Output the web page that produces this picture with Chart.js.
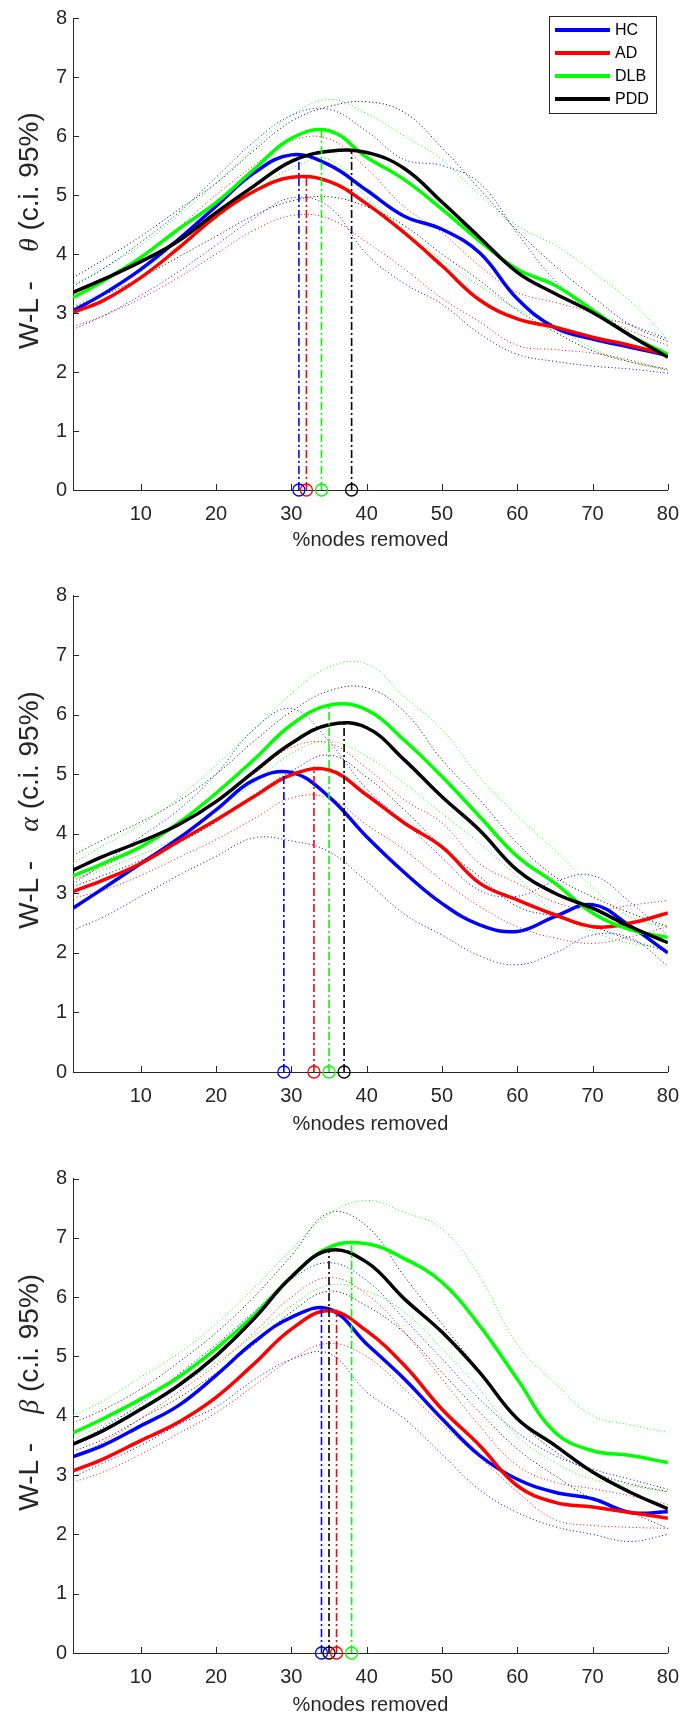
<!DOCTYPE html>
<html lang="en">
<head>
  <meta charset="UTF-8">
  <title>W-L - % nodes removed</title>
  <script src="https://cdn.jsdelivr.net/npm/chart.js"></script>
  <style>
    body { margin: 0; background: #fff; }
    .wrap { position: relative; width: 691px; height: 1715px; }
    canvas { position: absolute; left: 0; }
  </style>
</head>
<body>
  <div class="wrap">
    <canvas id="thetaChart" width="691" height="560" style="top:0px"></canvas>
    <canvas id="alphaChart" width="691" height="580" style="top:560px"></canvas>
    <canvas id="betaChart" width="691" height="575" style="top:1140px"></canvas>
  </div>

  <script>
    // shared axes
    const xs = [1, 5, 10, 15, 20, 25, 30, 35, 40, 45, 50, 55, 60, 65, 70, 75, 80];
    const xTicks = [10, 20, 30, 40, 50, 60, 70, 80];
    const yTicks = [0, 1, 2, 3, 4, 5, 6, 7, 8];
    const groups = ['HC', 'AD', 'DLB', 'PDD'];
    const colors = ['#0000ff', '#ff0000', '#00ff00', '#000000'];

    // theta band
    const thetaHC = [3.04, 3.32, 3.74, 4.25, 4.81, 5.37, 5.68, 5.51, 5.08, 4.64, 4.42, 4.02, 3.24, 2.75, 2.56, 2.42, 2.28];
    const thetaAD = [3.01, 3.21, 3.6, 4.1, 4.64, 5.06, 5.3, 5.23, 4.85, 4.36, 3.8, 3.22, 2.9, 2.76, 2.59, 2.45, 2.29];
    const thetaDLB = [3.26, 3.54, 3.94, 4.42, 4.87, 5.43, 5.96, 6.09, 5.64, 5.26, 4.76, 4.22, 3.74, 3.47, 3.05, 2.62, 2.3];
    const thetaPDD = [3.35, 3.57, 3.87, 4.22, 4.7, 5.15, 5.57, 5.74, 5.72, 5.45, 4.88, 4.28, 3.69, 3.33, 3.01, 2.62, 2.25];
    const thetaHCup = [3.45, 3.75, 4.2, 4.7, 5.3, 5.9, 6.35, 6.45, 6.08, 5.6, 5.5, 5.2, 4.35, 3.55, 3.0, 2.8, 2.56];
    const thetaHClo = [2.72, 2.95, 3.3, 3.7, 4.15, 4.6, 4.95, 4.8, 4.0, 3.5, 3.15, 2.65, 2.3, 2.18, 2.1, 2.05, 1.98];
    const thetaADup = [3.3, 3.55, 3.95, 4.45, 5.0, 5.5, 5.92, 5.95, 5.45, 4.8, 4.36, 3.8, 3.35, 3.18, 3.0, 2.7, 2.45];
    const thetaADlo = [2.77, 2.95, 3.25, 3.6, 4.0, 4.4, 4.65, 4.6, 4.2, 3.75, 3.25, 2.85, 2.45, 2.38, 2.32, 2.2, 2.02];
    const thetaDLBup = [3.48, 3.75, 4.15, 4.65, 5.2, 5.8, 6.35, 6.62, 6.38, 6.0, 5.6, 5.0, 4.48, 4.15, 3.7, 3.2, 2.55];
    const thetaDLBlo = [3.12, 3.35, 3.7, 4.15, 4.6, 5.05, 5.45, 5.6, 4.95, 4.4, 3.9, 3.46, 3.07, 2.79, 2.4, 2.17, 2.03];
    const thetaPDDup = [3.6, 3.9, 4.3, 4.75, 5.2, 5.75, 6.25, 6.5, 6.58, 6.4, 5.8, 5.1, 4.4, 3.8, 3.28, 2.8, 2.52];
    const thetaPDDlo = [3.1, 3.3, 3.6, 3.95, 4.3, 4.65, 4.9, 4.97, 4.8, 4.48, 4.0, 3.55, 3.05, 2.68, 2.36, 2.17, 2.05];
    const thetaPeakX = [31, 32, 34, 38];
    const thetaPeakY = [5.68, 5.33, 6.11, 5.75];

    // alpha band
    const alphaHC = [2.75, 3.08, 3.5, 3.92, 4.4, 4.9, 5.03, 4.62, 3.95, 3.35, 2.83, 2.47, 2.36, 2.61, 2.81, 2.45, 2.0];
    const alphaAD = [3.03, 3.22, 3.5, 3.87, 4.23, 4.62, 4.99, 5.07, 4.65, 4.18, 3.78, 3.17, 2.89, 2.64, 2.44, 2.5, 2.67];
    const alphaDLB = [3.29, 3.5, 3.78, 4.18, 4.68, 5.24, 5.83, 6.16, 6.08, 5.57, 4.96, 4.29, 3.62, 3.17, 2.67, 2.39, 2.26];
    const alphaPDD = [3.39, 3.62, 3.87, 4.15, 4.54, 5.04, 5.52, 5.83, 5.78, 5.24, 4.62, 4.06, 3.39, 3.0, 2.75, 2.44, 2.17];
    const alphaHCup = [3.15, 3.5, 3.95, 4.4, 5.0, 5.75, 6.1, 5.55, 4.75, 4.2, 3.6, 3.05, 2.95, 3.2, 3.3, 2.85, 2.3];
    const alphaHClo = [2.38, 2.6, 2.95, 3.3, 3.62, 3.93, 3.88, 3.7, 3.2, 2.65, 2.3, 1.95, 1.8, 2.0, 2.3, 2.25, 1.78];
    const alphaADup = [3.22, 3.45, 3.78, 4.15, 4.55, 5.0, 5.45, 5.52, 5.1, 4.57, 4.18, 3.5, 3.17, 2.85, 2.72, 2.8, 2.88];
    const alphaADlo = [2.92, 3.05, 3.3, 3.6, 3.9, 4.25, 4.6, 4.6, 4.15, 3.73, 3.22, 2.78, 2.44, 2.25, 2.16, 2.27, 2.44];
    const alphaDLBup = [3.5, 3.8, 4.15, 4.6, 5.15, 5.75, 6.35, 6.8, 6.85, 6.3, 5.75, 4.95, 4.3, 3.72, 3.1, 2.6, 2.43];
    const alphaDLBlo = [3.22, 3.4, 3.65, 3.95, 4.4, 4.85, 5.35, 5.55, 5.3, 4.85, 4.34, 3.84, 3.28, 2.67, 2.36, 2.16, 2.1];
    const alphaPDDup = [3.64, 3.9, 4.2, 4.55, 5.0, 5.55, 6.05, 6.4, 6.45, 6.05, 5.24, 4.57, 3.84, 3.28, 2.94, 2.67, 2.44];
    const alphaPDDlo = [3.11, 3.3, 3.55, 3.85, 4.2, 4.65, 5.05, 5.32, 4.95, 4.4, 3.78, 3.28, 2.78, 2.61, 2.44, 2.22, 2.02];
    const alphaPeakX = [29, 33, 35, 37];
    const alphaPeakY = [5.03, 5.13, 6.16, 5.88];

    // beta band
    const betaHC = [3.31, 3.5, 3.83, 4.17, 4.68, 5.24, 5.66, 5.8, 5.21, 4.62, 3.95, 3.33, 2.93, 2.71, 2.6, 2.37, 2.38];
    const betaAD = [3.07, 3.27, 3.58, 3.89, 4.31, 4.87, 5.46, 5.77, 5.43, 4.85, 4.11, 3.5, 2.82, 2.54, 2.46, 2.37, 2.27];
    const betaDLB = [3.71, 3.95, 4.28, 4.65, 5.13, 5.69, 6.34, 6.84, 6.9, 6.65, 6.25, 5.52, 4.62, 3.72, 3.41, 3.33, 3.21];
    const betaPDD = [3.52, 3.75, 4.11, 4.51, 5.01, 5.63, 6.34, 6.79, 6.59, 5.97, 5.41, 4.73, 3.95, 3.5, 3.05, 2.71, 2.43];
    const betaHCup = [3.5, 3.8, 4.2, 4.7, 5.2, 5.75, 6.3, 6.58, 6.28, 5.63, 4.96, 4.28, 3.72, 3.33, 3.1, 2.93, 2.76];
    const betaHClo = [2.97, 3.2, 3.5, 3.85, 4.15, 4.6, 4.95, 5.05, 4.4, 3.95, 3.35, 2.75, 2.37, 2.13, 2.0, 1.88, 2.0];
    const betaADup = [3.3, 3.55, 3.95, 4.4, 4.85, 5.4, 6.0, 6.33, 6.05, 5.41, 4.62, 3.83, 3.16, 2.88, 2.77, 2.65, 2.5];
    const betaADlo = [2.88, 3.05, 3.35, 3.7, 4.05, 4.5, 4.95, 5.22, 5.0, 4.45, 3.85, 3.3, 2.72, 2.25, 2.15, 2.12, 2.1];
    const betaDLBup = [4.0, 4.25, 4.65, 5.05, 5.55, 6.15, 6.8, 7.4, 7.63, 7.43, 7.15, 6.35, 5.2, 4.55, 4.0, 3.85, 3.72];
    const betaDLBlo = [3.6, 3.85, 4.15, 4.5, 4.9, 5.35, 5.85, 6.2, 6.1, 5.75, 5.13, 4.45, 3.66, 3.21, 2.93, 2.82, 2.71];
    const betaPDDup = [3.88, 4.1, 4.45, 4.9, 5.4, 6.0, 6.7, 7.42, 7.2, 6.35, 5.55, 4.75, 3.95, 3.4, 3.05, 2.85, 2.72];
    const betaPDDlo = [3.4, 3.6, 3.95, 4.3, 4.72, 5.2, 5.75, 6.1, 5.85, 5.4, 4.73, 4.06, 3.44, 2.99, 2.6, 2.37, 2.1];
    const betaPeakX = [34, 36, 38, 35];
    const betaPeakY = [5.82, 5.79, 6.93, 6.79];

    const axisColor = '#262626';
    const sansFamily = '"Liberation Sans", Arial, sans-serif';
    Chart.defaults.font.family = sansFamily;

    // MATLAB-style ticks pointing into the plot
    const innerTicks = {
      id: 'innerTicks',
      afterDraw(chart) {
        const { ctx, chartArea: a, scales: { x, y } } = chart;
        ctx.save();
        ctx.strokeStyle = axisColor;
        ctx.lineWidth = 1;
        ctx.beginPath();
        yTicks.forEach(v => {
          const py = Math.round(y.getPixelForValue(v)) + 0.5;
          ctx.moveTo(a.left, py);
          ctx.lineTo(a.left + 6, py);
        });
        xTicks.forEach(v => {
          const px = Math.round(x.getPixelForValue(v)) + 0.5;
          ctx.moveTo(px, a.bottom);
          ctx.lineTo(px, a.bottom - 6);
        });
        ctx.stroke();
        ctx.restore();
      }
    };

    // y title with an italic greek letter in the middle
    const yLabel = {
      id: 'yLabel',
      afterDraw(chart, args, opts) {
        const { ctx, chartArea: a } = chart;
        const sans = '28px ' + sansFamily;
        const ital = 'italic 28px "Liberation Serif", "DejaVu Serif", serif';
        ctx.save();
        ctx.translate(38, (a.top + a.bottom) / 2 + 95);
        ctx.rotate(-Math.PI / 2);
        ctx.fillStyle = axisColor;
        ctx.textAlign = 'left';
        ctx.textBaseline = 'alphabetic';
        let pos = 0;
        ctx.font = sans;
        ctx.fillText('W-L -', pos, 0);
        pos += ctx.measureText('W-L -').width + 29;
        ctx.font = ital;
        ctx.fillText(opts.greek, pos, 0);
        pos += ctx.measureText(opts.greek).width;
        ctx.font = sans;
        ctx.fillText(' (c.i. 95%)', pos, 0);
        ctx.restore();
      }
    };

    // boxed legend, top right of the first panel
    const boxLegend = {
      id: 'boxLegend',
      afterDraw(chart, args, opts) {
        if (!opts.show) return;
        const ctx = chart.ctx;
        ctx.save();
        ctx.fillStyle = '#fff';
        ctx.fillRect(549, 16, 107, 97);
        ctx.strokeStyle = axisColor;
        ctx.lineWidth = 1;
        ctx.strokeRect(549.5, 16.5, 107, 97);
        ctx.font = '16px ' + sansFamily;
        ctx.textAlign = 'left';
        ctx.textBaseline = 'middle';
        groups.forEach((g, i) => {
          const yy = 30 + i * 23;
          ctx.strokeStyle = colors[i];
          ctx.lineWidth = 4;
          ctx.beginPath();
          ctx.moveTo(555, yy);
          ctx.lineTo(610, yy);
          ctx.stroke();
          ctx.fillStyle = '#000';
          ctx.fillText(g, 615, yy + 1);
        });
        ctx.restore();
      }
    };

    function pts(values) {
      return xs.map((x, i) => ({ x: x, y: values[i] }));
    }

    function makePanel(id, p) {
      const datasets = [];

      // dash-dot drop lines from each peak, with an open circle on the axis
      groups.forEach((g, i) => {
        datasets.push({
          label: g + ' peak',
          data: [{ x: p.peakX[i], y: 0 }, { x: p.peakX[i], y: p.peakY[i] }],
          borderColor: colors[i],
          borderWidth: 1.6,
          borderDash: [8, 3, 2, 3],
          tension: 0,
          pointRadius: [6, 0],
          pointBorderColor: colors[i],
          pointBackgroundColor: 'rgba(0,0,0,0)',
          pointBorderWidth: 1.3,
          clip: false
        });
      });

      // group means (PDD last in legend, so on top)
      for (let i = groups.length - 1; i >= 0; i--) {
        datasets.push({
          label: groups[i],
          data: pts(p.means[i]),
          borderColor: colors[i],
          borderWidth: 3.5,
          pointRadius: 0,
          tension: 0.4
        });
      }

      // 95% confidence bounds
      groups.forEach((g, i) => {
        [p.ups[i], p.los[i]].forEach(vals => {
          datasets.push({
            label: g + ' c.i.',
            data: pts(vals),
            borderColor: colors[i],
            borderWidth: 1,
            borderDash: [1, 2.5],
            pointRadius: 0,
            tension: 0.4
          });
        });
      });

      return new Chart(document.getElementById(id), {
        type: 'line',
        data: { datasets: datasets },
        options: {
          responsive: false,
          animation: false,
          events: [],
          layout: { padding: { top: p.padTop, right: 16, left: 0, bottom: 0 } },
          scales: {
            x: {
              type: 'linear',
              min: 1,
              max: 80,
              afterBuildTicks: s => { s.ticks = xTicks.map(v => ({ value: v })); },
              afterFit: s => { s.height = p.axisH; },
              grid: { display: false, drawTicks: false },
              border: { display: true, color: axisColor, width: 1 },
              ticks: { color: axisColor, font: { size: 20 }, padding: 12, maxRotation: 0, autoSkip: false },
              title: {
                display: true,
                text: '%nodes removed',
                color: axisColor,
                font: { size: 20, lineHeight: 1 },
                padding: { top: 0, bottom: p.titlePad }
              }
            },
            y: {
              type: 'linear',
              min: 0,
              max: 8,
              afterBuildTicks: s => { s.ticks = yTicks.map(v => ({ value: v })); },
              afterFit: s => { s.width = 73; },
              grid: { display: false, drawTicks: false },
              border: { display: true, color: axisColor, width: 1 },
              ticks: { color: axisColor, font: { size: 20 }, padding: 6 }
            }
          },
          plugins: {
            legend: { display: false },
            tooltip: { enabled: false },
            yLabel: { greek: p.greek },
            boxLegend: { show: p.legend }
          }
        },
        plugins: [innerTicks, yLabel, boxLegend]
      });
    }

    makePanel('thetaChart', {
      greek: 'θ', legend: true, padTop: 14.5, axisH: 70, titlePad: 10,
      means: [thetaHC, thetaAD, thetaDLB, thetaPDD],
      ups: [thetaHCup, thetaADup, thetaDLBup, thetaPDDup],
      los: [thetaHClo, thetaADlo, thetaDLBlo, thetaPDDlo],
      peakX: thetaPeakX, peakY: thetaPeakY
    });

    makePanel('alphaChart', {
      greek: 'α', legend: false, padTop: 35.5, axisH: 68, titlePad: 6,
      means: [alphaHC, alphaAD, alphaDLB, alphaPDD],
      ups: [alphaHCup, alphaADup, alphaDLBup, alphaPDDup],
      los: [alphaHClo, alphaADlo, alphaDLBlo, alphaPDDlo],
      peakX: alphaPeakX, peakY: alphaPeakY
    });

    makePanel('betaChart', {
      greek: 'β', legend: false, padTop: 38.5, axisH: 62, titlePad: 0,
      means: [betaHC, betaAD, betaDLB, betaPDD],
      ups: [betaHCup, betaADup, betaDLBup, betaPDDup],
      los: [betaHClo, betaADlo, betaDLBlo, betaPDDlo],
      peakX: betaPeakX, peakY: betaPeakY
    });
  </script>
</body>
</html>
